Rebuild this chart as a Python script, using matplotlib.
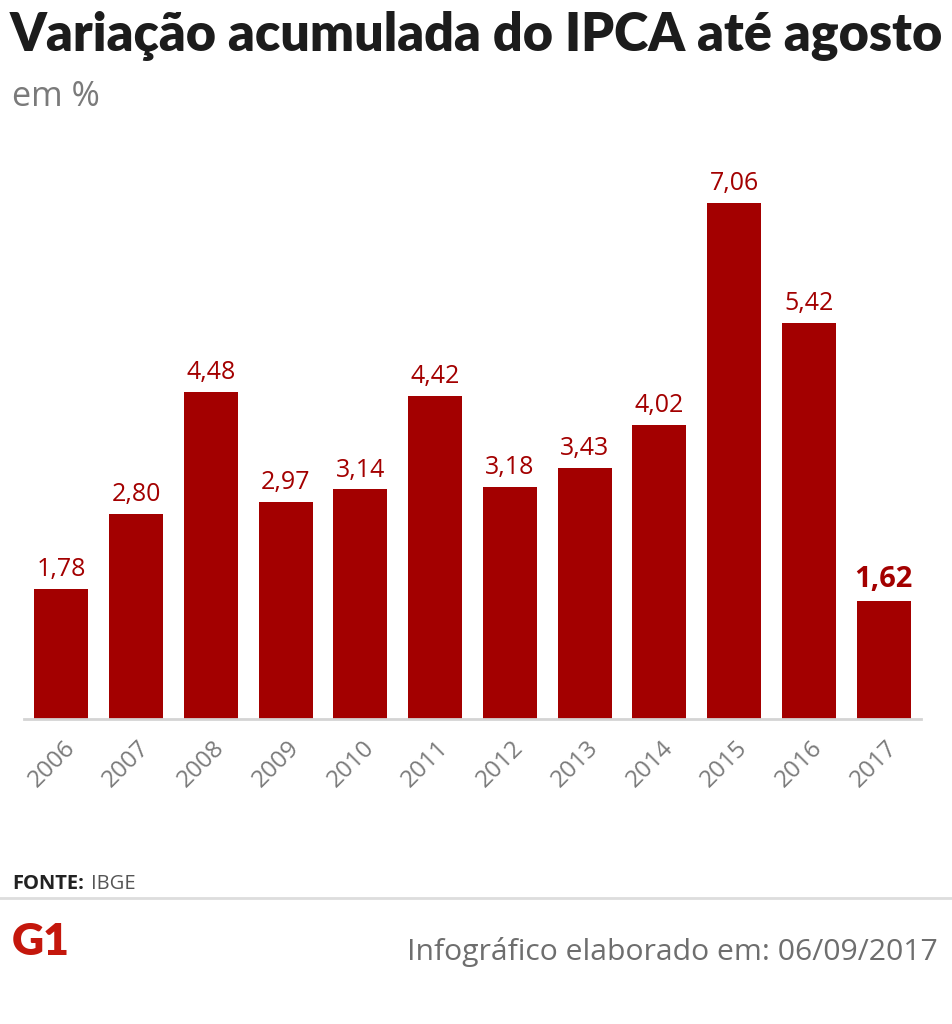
import matplotlib
matplotlib.use("Agg")
import matplotlib.pyplot as plt
from matplotlib.lines import Line2D

years = ["2006", "2007", "2008", "2009", "2010", "2011",
         "2012", "2013", "2014", "2015", "2016", "2017"]
ipca = [1.78, 2.80, 4.48, 2.97, 3.14, 4.42, 3.18, 3.43, 4.02, 7.06, 5.42, 1.62]

title = "Variação acumulada do IPCA até agosto"
subtitle = "em %"
source_label = "FONTE:"
source = "IBGE"
credit = "Infográfico elaborado em: 06/09/2017"

bar_color = "#a30000"
W, H = 953, 1024
fig = plt.figure(figsize=(W / 100, H / 100), dpi=100)


def fit_width(txt, target_px):
    # scale the font so the text spans target_px pixels
    fig.canvas.draw()
    w = txt.get_window_extent().width
    txt.set_fontsize(txt.get_fontsize() * target_px / w)


# axes in pixel coordinates: left 24, right 921, bottom 719, top 160
ax = fig.add_axes([24 / W, 1 - 719 / H, (921 - 24) / W, (719 - 160) / H])
x = list(range(len(years)))
ax.bar(x, ipca, width=0.72, color=bar_color, zorder=2)
ax.set_xlim(-0.5, len(years) - 0.5)
ax.set_ylim(0, 559 / 73.1)
for s in ["top", "right", "left"]:
    ax.spines[s].set_visible(False)
ax.spines["bottom"].set_color("#d4d4d4")
ax.spines["bottom"].set_linewidth(2)
ax.set_yticks([])
ax.set_xticks([i + 0.02 for i in x])
ax.set_xticklabels(years, rotation=45, ha="right", va="top",
                   rotation_mode="anchor", fontsize=17.5, color="#7a7a7a",
                   family="Open Sans")
ax.tick_params(axis="x", length=0, pad=12)

for i, v in enumerate(ipca):
    last = i == len(ipca) - 1
    ax.annotate(f"{v:.2f}".replace(".", ","), (i, v), xytext=(0, 5),
                textcoords="offset points", ha="center", va="bottom",
                color=bar_color, family="Open Sans",
                fontsize=21 if last else 18,
                fontweight="bold" if last else "normal")

t = fig.text(10 / W, 1 - 51 / H, title, fontsize=34, fontweight="heavy",
             family="Lato", color="#1c1c1c", ha="left", va="baseline")
fit_width(t, 935)

st = fig.text(12 / W, 1 - 106 / H, subtitle, fontsize=21, family="Open Sans",
              color="#7a7a7a", ha="left", va="baseline")
fit_width(st, 88)

f1 = fig.text(12 / W, 1 - 889 / H, source_label, fontsize=14.5, fontweight="bold",
              family="Open Sans", color="#222222", ha="left", va="baseline")
fig.canvas.draw()
x_src = f1.get_window_extent().x1 + 7
fig.text(x_src / W, 1 - 889 / H, source, fontsize=14.5, family="Open Sans",
         color="#555555", ha="left", va="baseline")
fig.add_artist(Line2D([0, 1], [1 - 898 / H, 1 - 898 / H],
                      transform=fig.transFigure, color="#dddddd", lw=2))

g = fig.text(12 / W, 1 - 955 / H, "G1", fontsize=34, fontweight="heavy",
             family="Lato", color="#c4170c", ha="left", va="baseline")
fit_width(g, 58)
c = fig.text(938 / W, 1 - 960 / H, credit, fontsize=21, family="Open Sans",
             color="#6e6e6e", ha="right", va="baseline")
fit_width(c, 530)

fig.savefig("out.png", dpi=100, facecolor="white")
